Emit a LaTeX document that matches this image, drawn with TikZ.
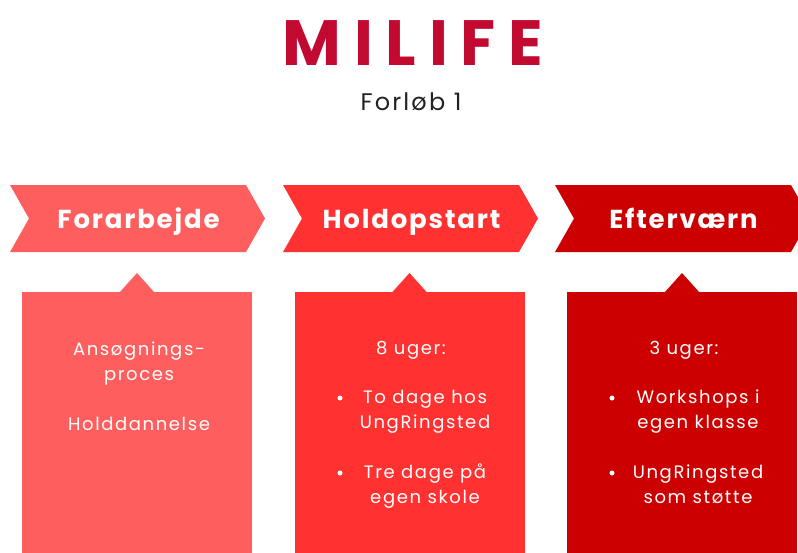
\documentclass[tikz,border=0pt]{standalone}
\usepackage{fontspec}
\setmainfont{Poppins}
\newfontfamily\titlefont[LetterSpace=20]{Poppins}
\newfontfamily\headfont[LetterSpace=7]{Poppins}
\newfontfamily\bodyfont[LetterSpace=9]{Poppins}
\definecolor{milred}{HTML}{C20A31}
\definecolor{stepA}{HTML}{FF5E5E}
\definecolor{stepB}{HTML}{FF3131}
\definecolor{stepC}{HTML}{CC0000}
\definecolor{subgray}{HTML}{222222}

\begin{document}
\begin{tikzpicture}[x=1pt,y=-1pt,
  head/.style={text=white,anchor=base,font=\headfont\bfseries\fontsize{26}{30}\selectfont},
  body/.style={text=white,anchor=base,align=center,font=\bodyfont\fontsize{18}{25}\selectfont},
  dot/.style={circle,fill=white,inner sep=0pt,minimum size=5pt}]
  \useasboundingbox (0,0) rectangle (798,552);
  \node[text=milred,anchor=base,font=\titlefont\bfseries\fontsize{64}{70}\selectfont] (title) at (413,65) {MILIFE};
  \node[text=subgray,anchor=base,font=\bodyfont\fontsize{24}{28}\selectfont] (sub) at (411,110) {Forløb 1};
  % chevrons
  \foreach \x/\col/\nm/\txt in {10/stepA/forarb/Forarbejde,283/stepB/holdop/Holdopstart,555/stepC/efterv/Efterværn}{
    \fill[\col] (\x,185) -- ++(236,0) -- ++(19,33.5) -- ++(-19,33.5) -- ++(-236,0) -- ++(19,-33.5) -- cycle;
    \node[head] (\nm) at (\x+128.5,228) {\txt};
  }
  % boxes
  \foreach \x/\col/\nm in {137/stepA/boxA,409.5/stepB/boxB,682/stepC/boxC}{
    \node[fill=\col,minimum width=230pt,minimum height=270pt,anchor=north,inner sep=0pt] (\nm) at (\x,292) {};
    \fill[\col] (\nm.north) ++(-17.5,0.5) -- ++(17.5,-19.5) -- ++(17.5,19.5) -- cycle;
  }
  \node[body] (aproc) at (139,430) {Ansøgnings-\\proces\\[25pt]Holddannelse};
  \node[body] (bweeks) at (411,354) {8 uger:};
  \node[body] (bitem1) at (425,428) {To dage hos\\UngRingsted};
  \node[body] (bitem2) at (425,503) {Tre dage på\\egen skole};
  \node[dot] (bdot1) at (340,398) {};
  \node[dot] (bdot2) at (340,473) {};
  \node[body] (cweeks) at (684,354) {3 uger:};
  \node[body] (citem1) at (698,428) {Workshops i\\egen klasse};
  \node[body] (citem2) at (698,503) {UngRingsted\\som støtte};
  \node[dot] (cdot1) at (612,398) {};
  \node[dot] (cdot2) at (612,473) {};
\end{tikzpicture}
\end{document}
